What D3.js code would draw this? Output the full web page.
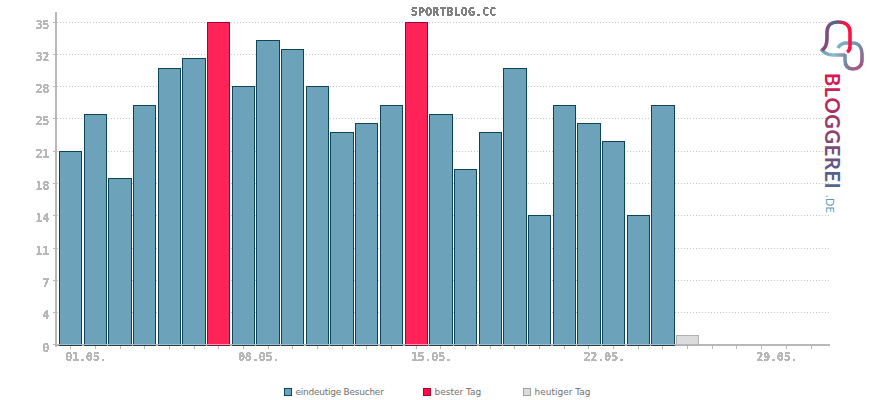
<!DOCTYPE html>
<html>
<head>
<meta charset="utf-8">
<script src="https://cdn.jsdelivr.net/npm/d3@7"></script>
<style>
  html, body { margin: 0; padding: 0; background: #fff; }
  svg { display: block; }
</style>
</head>
<body>
<script>
const days = d3.range(1, 32);
const visitors = [21, 25, 18, 26, 30, 31, 35, 28, 33, 32, 28, 23, 24, 26, 35, 25, 19, 23, 30, 14, 26, 24, 22, 14, 26];
const bestDays = [7, 15];
const todayDay = 26;
const todayValue = 1;
const yTicks = [0, 3.5, 7, 10.5, 14, 17.5, 21, 24.5, 28, 31.5, 35];
const yLabels = ["0", "4", "7", "11", "14", "18", "21", "25", "28", "32", "35"];
const xLabelDays = [1, 8, 15, 22, 29];
const legendNames = ["eindeutige Besucher", "bester Tag", "heutiger Tag"];

const width = 870, height = 400;
const svg = d3.select("body").append("svg")
  .attr("width", width)
  .attr("height", height)
  .style("font-family", "'DejaVu Sans Mono', monospace");

const defs = svg.append("defs");

// hard-edged text like the bitmap fonts of the original
const crisp = defs.append("filter").attr("id", "crisp")
  .attr("x", "-5%").attr("y", "-20%").attr("width", "110%").attr("height", "140%");
crisp.append("feComponentTransfer").append("feFuncA")
  .attr("type", "discrete").attr("tableValues", "0 1 1");

function gradient(id, attrs, stops) {
  const g = defs.append("linearGradient").attr("id", id);
  Object.entries(attrs).forEach(([k, v]) => g.attr(k, v));
  stops.forEach(s => g.append("stop").attr("offset", s[0]).attr("stop-color", s[1]));
}

// the word is rotated, so its gradient runs along its own x
gradient("logoText", { gradientUnits: "userSpaceOnUse", x1: 0, y1: 0, x2: 120, y2: 0 },
  [[0, "#e0164f"], [0.45, "#953d6d"], [0.85, "#566089"], [1, "#4d6c90"]]);
gradient("bell", { x1: 0, y1: 0, x2: 1, y2: 0 },
  [[0, "#97406f"], [0.45, "#4f6a8e"], [0.7, "#c02a5c"], [0.85, "#ff1144"]]);
gradient("tail", { gradientUnits: "userSpaceOnUse", x1: 821, y1: 0, x2: 846, y2: 0 },
  [[0, "#5f9eb6"], [0.5, "#8fbccc"], [1, "#86809f"]]);
gradient("ring", { x1: 0, y1: 0, x2: 1, y2: 1 },
  [[0, "#7fb4c8"], [0.5, "#6f8fab"], [1, "#b04a75"]]);

const x = d3.scaleBand().domain(days).range([57.9, 822.8]).paddingInner(0.096).paddingOuter(0.045);
const y = d3.scaleLinear().domain([0, 35]).range([345, 22]);
const py = v => Math.floor(y(v));
const tx = d => x(d) + x.bandwidth() / 2;

const tickColor = "#b8b8b8";

// grid
svg.append("g").selectAll("line")
  .data(yTicks.slice(1))
  .join("line")
  .attr("x1", 57).attr("x2", 830)
  .attr("y1", d => py(d) + 0.5).attr("y2", d => py(d) + 0.5)
  .attr("stroke", "#c8c8c8")
  .attr("stroke-dasharray", "1,2");

// axes sit under the bars
svg.append("g").selectAll("line")
  .data(days)
  .join("line")
  .attr("x1", d => Math.round(tx(d)) + 0.5).attr("x2", d => Math.round(tx(d)) + 0.5)
  .attr("y1", 345).attr("y2", 349)
  .attr("stroke", tickColor);

svg.append("rect").attr("x", 55).attr("y", 12).attr("width", 2).attr("height", 335).attr("fill", tickColor);
svg.append("rect").attr("x", 55).attr("y", 344).attr("width", 775).attr("height", 2).attr("fill", tickColor);

svg.append("g").selectAll("line")
  .data(yTicks)
  .join("line")
  .attr("x1", 53).attr("x2", 57)
  .attr("y1", d => Math.min(py(d), 344) + 0.5).attr("y2", d => Math.min(py(d), 344) + 0.5)
  .attr("stroke", tickColor);

// bars
const barData = visitors.map((v, i) => ({ day: i + 1, value: v }));
svg.append("g").selectAll("rect")
  .data(barData)
  .join("rect")
  .attr("x", d => Math.round(x(d.day)) + 0.5)
  .attr("width", d => Math.round(x(d.day) + x.bandwidth()) - Math.round(x(d.day)))
  .attr("y", d => py(d.value) + 0.5)
  .attr("height", d => 345 - py(d.value))
  .attr("fill", d => bestDays.includes(d.day) ? "#ff2357" : "#6ca2ba")
  .attr("stroke", d => bestDays.includes(d.day) ? "#a80034" : "#0f4359");

svg.append("rect")
  .attr("x", Math.round(x(todayDay)) + 0.5)
  .attr("width", Math.round(x.bandwidth()))
  .attr("y", py(todayValue) + 0.5)
  .attr("height", 345 - py(todayValue))
  .attr("fill", "#dcdcdc")
  .attr("stroke", "#b0b0b0");

// upper half of the x axis shows through the bars
svg.append("rect").attr("x", 57).attr("y", 344).attr("width", 773).attr("height", 1).attr("fill", tickColor);

const labels = svg.append("g").attr("filter", "url(#crisp)");

labels.append("g").selectAll("text")
  .data(yTicks)
  .join("text")
  .attr("x", 49)
  .attr("y", d => py(d) + 7)
  .attr("text-anchor", "end")
  .attr("font-size", 12)
  .attr("letter-spacing", -0.5)
  .attr("font-weight", "bold")
  .attr("fill", tickColor)
  .text((d, i) => yLabels[i]);

labels.append("g").selectAll("text")
  .data(xLabelDays)
  .join("text")
  .attr("x", d => tx(d) - 5)
  .attr("y", 361)
  .attr("font-size", 12)
  .attr("letter-spacing", -0.35)
  .attr("font-weight", "bold")
  .attr("fill", tickColor)
  .text(d => String(d).padStart(2, "0") + ".05.");

labels.append("text")
  .attr("x", 453.5).attr("y", 16)
  .attr("text-anchor", "middle")
  .attr("font-size", 12)
  .attr("letter-spacing", -0.1)
  .attr("font-weight", "bold")
  .attr("fill", "#808080")
  .text("SPORTBLOG.CC");

// legend
const legendX = [284, 423, 523];
const legendFill = ["#6ca2ba", "#ff0a45", "#dcdcdc"];
const legendStroke = ["#0f4359", "#a80034", "#a0a0a0"];
const legendSpacing = [-0.25, 0, 0];
const legend = svg.append("g").selectAll("g")
  .data(legendNames)
  .join("g")
  .attr("transform", (d, i) => `translate(${legendX[i]},388)`);
legend.append("rect")
  .attr("x", 0.5).attr("y", 0.5).attr("width", 7).attr("height", 7)
  .attr("fill", (d, i) => legendFill[i])
  .attr("stroke", (d, i) => legendStroke[i]);
legend.append("text")
  .attr("x", 11.5).attr("y", 7)
  .style("font-family", "'DejaVu Sans'")
  .attr("font-size", 9)
  .attr("letter-spacing", (d, i) => legendSpacing[i])
  .attr("fill", "#707070")
  .text(d => d);

// logo
const logo = svg.append("g").attr("fill", "none").attr("stroke-width", 3.6);
logo.append("path")
  .attr("d", "M838 48 C840 44 843 43 847 43 L853 43 C859 43 862 48 862 54 L862 60 C862 66 858 69 853 69 C847 69 845 65 845 60 L845 54")
  .attr("stroke", "url(#ring)");
logo.append("path")
  .attr("d", "M821 49 C824 53 828 55 833 55 L845 55")
  .attr("stroke", "url(#tail)");
logo.append("path")
  .attr("d", "M822 50 C826 48 827 44 827 38 L827 32 C827 25 832 22 838 22 C845 22 850 25 850 32 L850 46 C850 49 849 51 847 52")
  .attr("stroke", "url(#bell)");

svg.append("text")
  .attr("transform", "translate(824.5,73) rotate(90)")
  .style("font-family", "Lato")
  .attr("font-size", 20)
  .attr("font-weight", 700)
  .attr("letter-spacing", 0.7)
  .attr("fill", "url(#logoText)")
  .text("BLOGGEREI");
svg.append("text")
  .attr("transform", "translate(825.5,195) rotate(90)")
  .style("font-family", "Lato")
  .attr("font-size", 11)
  .attr("letter-spacing", 0.3)
  .attr("fill", "#5d9cb8")
  .text(".DE");
</script>
</body>
</html>
